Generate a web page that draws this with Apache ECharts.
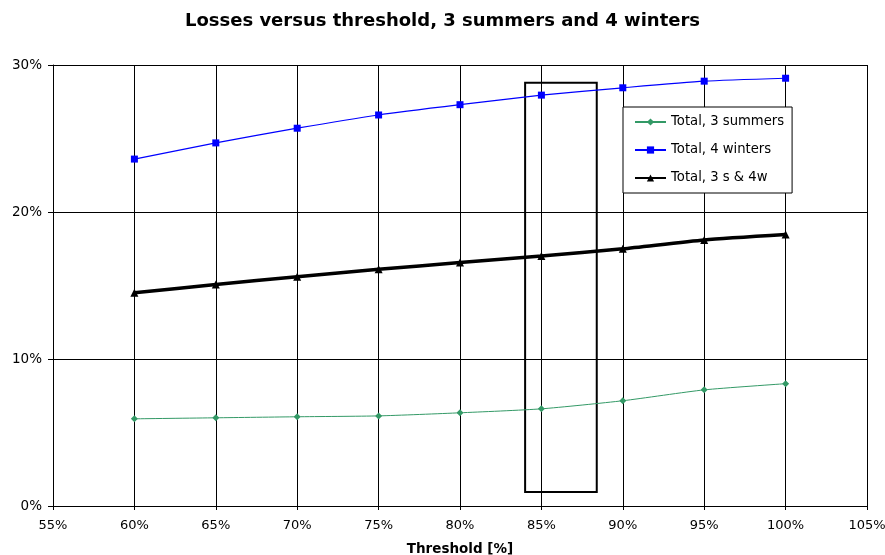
<!DOCTYPE html>
<html><head><meta charset="utf-8">
<script src="https://cdn.jsdelivr.net/npm/echarts@6/dist/echarts.min.js"></script>
<style>html,body{margin:0;padding:0;background:#fff;overflow:hidden}#c{width:885px;height:555px}</style>
</head><body><div id="c"></div>
<script>
const thresholds = [60, 65, 70, 75, 80, 85, 90, 95, 100];
const summers = [5.93, 6.0, 6.07, 6.13, 6.34, 6.61, 7.16, 7.9, 8.32];
const winters = [23.6, 24.7, 25.7, 26.6, 27.3, 27.95, 28.45, 28.9, 29.1];
const total = [14.5, 15.07, 15.6, 16.1, 16.56, 17.0, 17.5, 18.1, 18.47];
const seriesNames = ['Total, 3 summers', 'Total, 4 winters', 'Total, 3 s & 4w'];
const highlightBox = { x0: 84, x1: 88.4, y0: 0.95, y1: 28.8 };

const pair = (xs, ys) => xs.map((x, i) => [x, ys[i]]);
const font = "'DejaVu Sans', Verdana, sans-serif";
const chart = echarts.init(document.getElementById('c'));
chart.setOption({
  animation: false,
  title: { text: 'Losses versus threshold, 3 summers and 4 winters', left: 'center', top: 7,
    textStyle: { fontFamily: font, fontSize: 18, fontWeight: 'bold', color: '#000' } },
  grid: { left: 53, right: 18, top: 65, bottom: 49, containLabel: false, outerBoundsMode: 'none' },
  legend: {
    orient: 'vertical', left: 623, top: 107, padding: [8, 8, 8, 11], itemGap: 14,
    itemWidth: 31, itemHeight: 9,
    backgroundColor: '#fff', borderColor: '#000', borderWidth: 1,
    textStyle: { fontFamily: font, fontSize: 13.2, color: '#000', lineHeight: 14 },
    data: seriesNames
  },
  xAxis: {
    type: 'value', min: 55, max: 105, interval: 5,
    name: 'Threshold [%]', nameLocation: 'middle', nameGap: 36,
    nameTextStyle: { fontFamily: font, fontSize: 13.5, fontWeight: 'bold', color: '#000' },
    axisLine: { onZero: false, lineStyle: { color: '#000' } },
    axisTick: { show: true, length: 4, lineStyle: { color: '#000' } },
    axisLabel: { formatter: '{value}%', fontFamily: font, fontSize: 13, color: '#000', margin: 13 },
    splitLine: { show: true, lineStyle: { color: '#000', width: 1 } }
  },
  yAxis: {
    type: 'value', min: 0, max: 30, interval: 10,
    axisLine: { show: true, lineStyle: { color: '#000' } },
    axisTick: { show: true, length: 5, lineStyle: { color: '#000' } },
    axisLabel: { formatter: '{value}%', fontFamily: font, fontSize: 13.5, color: '#000', margin: 11 },
    splitLine: { show: true, lineStyle: { color: '#000', width: 1 } }
  },
  series: [
    { name: seriesNames[0], type: 'line', data: pair(thresholds, summers), smooth: 0.2,
      symbol: 'diamond', symbolSize: 7, color: '#339966', lineStyle: { width: 1 },
      markArea: { silent: true, itemStyle: { color: 'rgba(0,0,0,0)', borderColor: '#000', borderWidth: 2 },
        data: [[{ coord: [highlightBox.x0, highlightBox.y0] }, { coord: [highlightBox.x1, highlightBox.y1] }]] } },
    { name: seriesNames[1], type: 'line', data: pair(thresholds, winters), smooth: 0.2,
      symbol: 'rect', symbolSize: 7, color: '#0000ff', lineStyle: { width: 1.2 } },
    { name: seriesNames[2], type: 'line', data: pair(thresholds, total), smooth: 0.2,
      symbol: 'triangle', symbolSize: 8, color: '#000', lineStyle: { width: 3.5 } }
  ]
});
</script></body></html>
